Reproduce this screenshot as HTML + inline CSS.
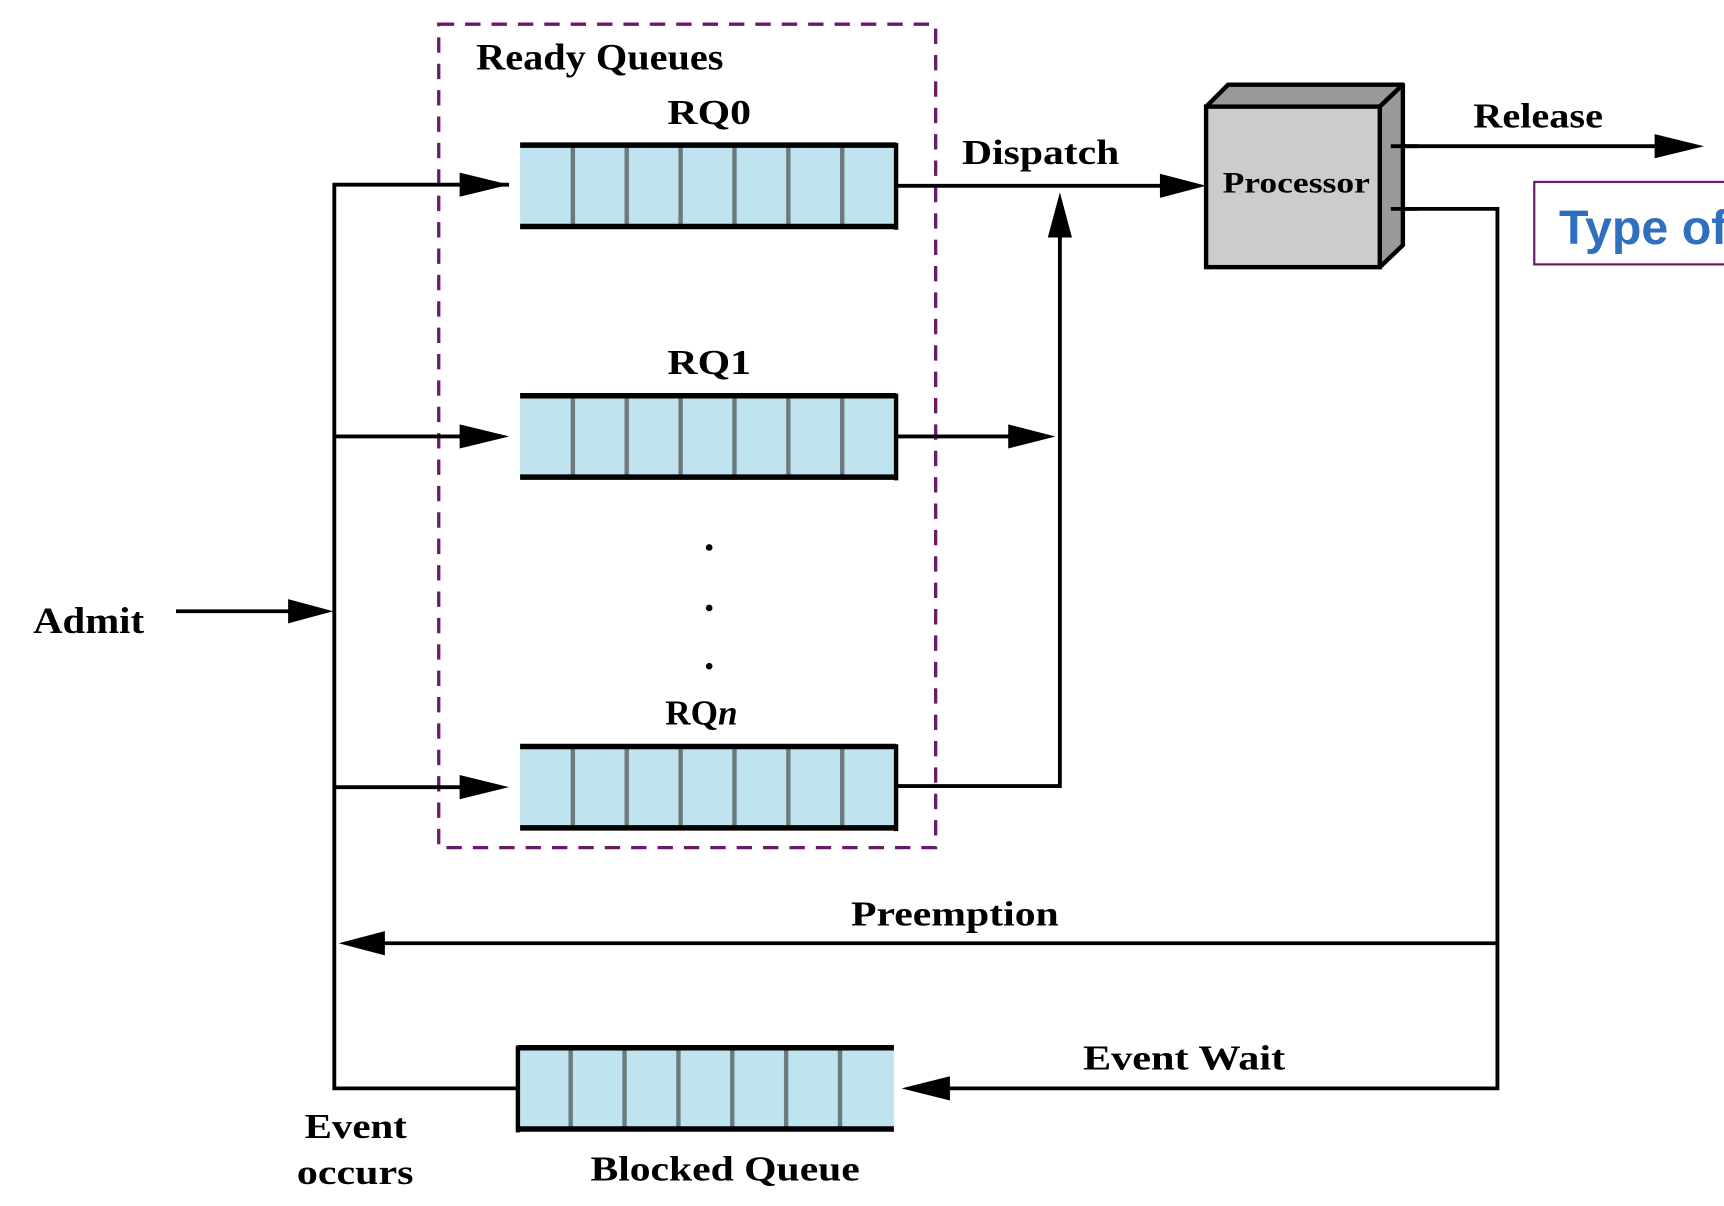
<!DOCTYPE html>
<html><head><meta charset="utf-8"><style>
html,body{margin:0;padding:0;background:#fff;}
svg{display:block;}
text{font-family:"Liberation Serif",serif;font-weight:bold;fill:#000;}
</style></head><body>
<svg width="1724" height="1206" viewBox="0 0 1568 1097" xmlns="http://www.w3.org/2000/svg">
<defs>
<g id="q">
<rect x="0" y="0" width="342" height="74" fill="#c0e4ef"/>
<g stroke="#6c7a7c" stroke-width="4">
<line x1="48" y1="0" x2="48" y2="74"/><line x1="97" y1="0" x2="97" y2="74"/><line x1="146" y1="0" x2="146" y2="74"/><line x1="195" y1="0" x2="195" y2="74"/><line x1="244" y1="0" x2="244" y2="74"/><line x1="293" y1="0" x2="293" y2="74"/>
</g>
<line x1="0" y1="0" x2="342" y2="0" stroke="#000" stroke-width="5"/>
<line x1="0" y1="74" x2="342" y2="74" stroke="#000" stroke-width="5"/>
</g>
</defs>

<rect x="399" y="22" width="452" height="749" fill="none" stroke="#6a1a6a" stroke-width="3" stroke-dasharray="14,10"/>

<use href="#q" x="473" y="132"/><line x1="815" y1="130" x2="815" y2="209" stroke="#000" stroke-width="4"/>
<use href="#q" x="473" y="360"/><line x1="815" y1="358" x2="815" y2="437" stroke="#000" stroke-width="4"/>
<use href="#q" x="473" y="679"/><line x1="815" y1="677" x2="815" y2="756" stroke="#000" stroke-width="4"/>
<use href="#q" x="471" y="953"/><line x1="471" y1="951" x2="471" y2="1030" stroke="#000" stroke-width="4"/>

<g stroke="#000" stroke-width="3.5" fill="none">
<polyline points="463,168 304,168 304,990 471,990"/>
<line x1="304" y1="397" x2="440" y2="397"/>
<line x1="304" y1="716" x2="440" y2="716"/>
<line x1="160" y1="556" x2="280" y2="556"/>
<line x1="815" y1="169" x2="1070" y2="169"/>
<polyline points="815,715 964,715 964,205"/>
<line x1="815" y1="397" x2="930" y2="397"/>
<line x1="1265" y1="133" x2="1520" y2="133"/>
<polyline points="1265,190 1362,190 1362,990 845,990"/>
<line x1="1362" y1="858" x2="335" y2="858"/>
</g>
<g fill="#000">
<polygon points="463,168 418,157 418,179"/>
<polygon points="463,397 418,386 418,408"/>
<polygon points="463,716 418,705 418,727"/>
<polygon points="303,556 262,545 262,567"/>
<polygon points="1097,169 1055,158 1055,180"/>
<polygon points="964,175 953,216 975,216"/>
<polygon points="960,397 917,386 917,408"/>
<polygon points="1550,133 1505,122 1505,144"/>
<polygon points="308,858 350,847 350,869"/>
<polygon points="820,990 864,979 864,1001"/>
</g>

<polygon points="1097,97 1117,77 1276,77 1255,97" fill="#999" stroke="#000" stroke-width="4" stroke-linejoin="round"/>
<polygon points="1255,97 1276,77 1276,223 1255,243" fill="#999" stroke="#000" stroke-width="4" stroke-linejoin="round"/>
<rect x="1097" y="97" width="158" height="146" fill="#ccc" stroke="#000" stroke-width="4"/>
<line x1="1265" y1="133" x2="1290" y2="133" stroke="#000" stroke-width="3.5"/>
<line x1="1265" y1="190" x2="1290" y2="190" stroke="#000" stroke-width="3.5"/>

<rect x="1395.5" y="165.5" width="200" height="75" fill="#fff" stroke="#6a1a6a" stroke-width="2"/>
<text x="1418" y="222" style="font-family:'Liberation Sans',sans-serif;font-weight:bold;fill:#2f6fbf;font-size:44px">Type of</text>

<text x="433" y="63" font-size="34" textLength="225" lengthAdjust="spacingAndGlyphs">Ready Queues</text>
<text x="607" y="113" font-size="32" textLength="76" lengthAdjust="spacingAndGlyphs">RQ0</text>
<text x="607" y="340" font-size="32" textLength="76" lengthAdjust="spacingAndGlyphs">RQ1</text>
<text x="605" y="659" font-size="32">RQ<tspan font-style="italic">n</tspan></text>
<circle cx="645" cy="498" r="3" fill="#000"/><circle cx="645" cy="553" r="3" fill="#000"/><circle cx="645" cy="606" r="3" fill="#000"/>
<text x="875" y="149" font-size="32" textLength="143" lengthAdjust="spacingAndGlyphs">Dispatch</text>
<text x="1340" y="116" font-size="32" textLength="118" lengthAdjust="spacingAndGlyphs">Release</text>
<text x="1112" y="175" font-size="27" textLength="134" lengthAdjust="spacingAndGlyphs">Processor</text>
<text x="30" y="576" font-size="34" textLength="101" lengthAdjust="spacingAndGlyphs">Admit</text>
<text x="774" y="842" font-size="32" textLength="189" lengthAdjust="spacingAndGlyphs">Preemption</text>
<text x="985" y="973" font-size="32" textLength="184" lengthAdjust="spacingAndGlyphs">Event Wait</text>
<text x="277" y="1035" font-size="32" textLength="93" lengthAdjust="spacingAndGlyphs">Event</text>
<text x="270" y="1077" font-size="32" textLength="106" lengthAdjust="spacingAndGlyphs">occurs</text>
<text x="537" y="1074" font-size="32" textLength="245" lengthAdjust="spacingAndGlyphs">Blocked Queue</text>
</svg>
</body></html>
